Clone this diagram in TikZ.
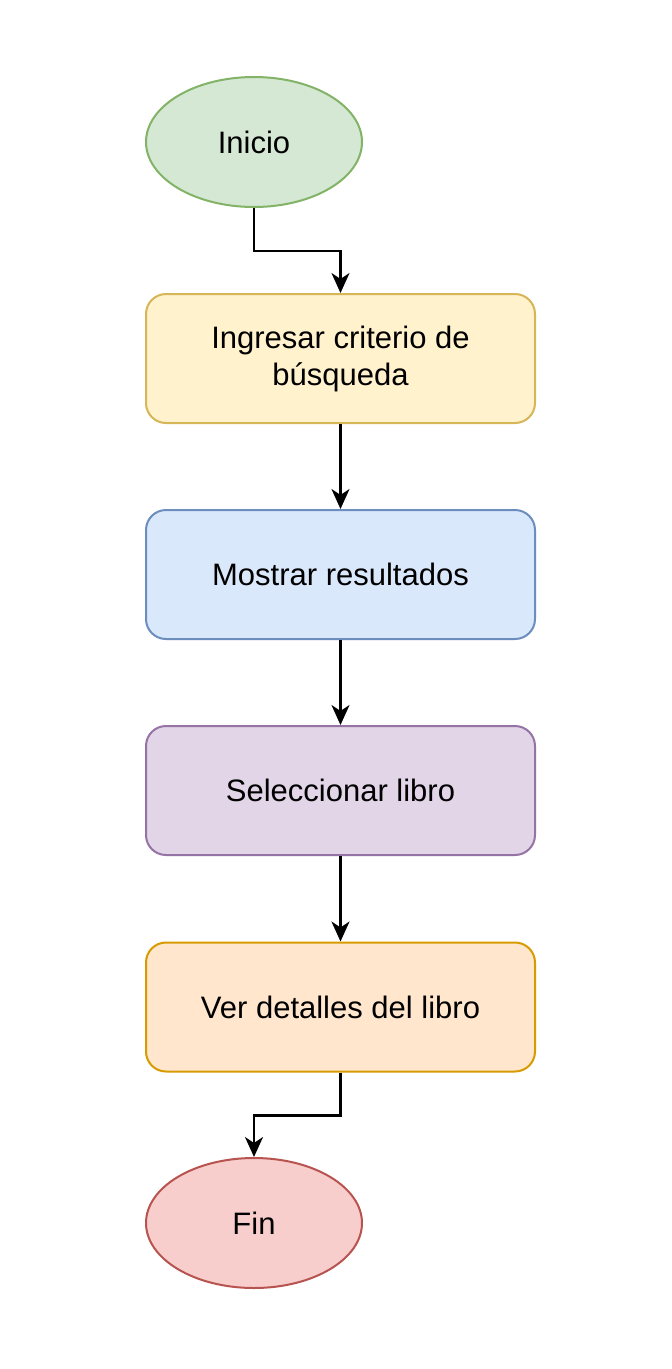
\documentclass[tikz,border=0pt]{standalone}
\usepackage{fontspec}
\setmainfont{Liberation Sans}
\usetikzlibrary{shapes.geometric,arrows.meta}
\definecolor{gfill}{HTML}{D5E8D4}\definecolor{gdraw}{HTML}{82B366}
\definecolor{yfill}{HTML}{FFF2CC}\definecolor{ydraw}{HTML}{D6B656}
\definecolor{bfill}{HTML}{DAE8FC}\definecolor{bdraw}{HTML}{6C8EBF}
\definecolor{pfill}{HTML}{E1D5E7}\definecolor{pdraw}{HTML}{9673A6}
\definecolor{ofill}{HTML}{FFE6CC}\definecolor{odraw}{HTML}{D79B00}
\definecolor{rfill}{HTML}{F8CECC}\definecolor{rdraw}{HTML}{B85450}
\tikzset{
  x=1pt, y=-1pt,
  txt/.style={font=\fontsize{31}{37}\selectfont, text=black, align=center, inner sep=0pt},
  term/.style={txt, ellipse, minimum width=216pt, minimum height=130pt, line width=2pt},
  procbox/.style={txt, rectangle, rounded corners=20pt, minimum width=389pt, minimum height=129pt, line width=2pt},
  conn/.style={line width=2.4pt, -{Stealth[length=20pt,width=18pt,inset=6pt]}}
}
\begin{document}
\begin{tikzpicture}
\useasboundingbox (0,0) rectangle (672,1369);
\fill[white] (0,0) rectangle (672,1369);
\node[term, fill=gfill, draw=gdraw] (ini) at (254,142) {Inicio};
\node[procbox, fill=yfill, draw=ydraw] (b1) at (340.5,358.5) {Ingresar criterio de\\búsqueda};
\node[procbox, fill=bfill, draw=bdraw] (b2) at (340.5,574.5) {Mostrar resultados};
\node[procbox, fill=pfill, draw=pdraw] (b3) at (340.5,790.5) {Seleccionar libro};
\node[procbox, fill=ofill, draw=odraw] (b4) at (340.5,1007) {Ver detalles del libro};
\node[term, fill=rfill, draw=rdraw] (fin) at (254,1223) {Fin};
\draw[conn] (ini.south) -- ++(0,43) -| (b1.north);
\draw[conn] (b1.south) -- (b2.north);
\draw[conn] (b2.south) -- (b3.north);
\draw[conn] (b3.south) -- (b4.north);
\draw[conn] (b4.south) -- ++(0,43) -| (fin.north);
\end{tikzpicture}
\end{document}
